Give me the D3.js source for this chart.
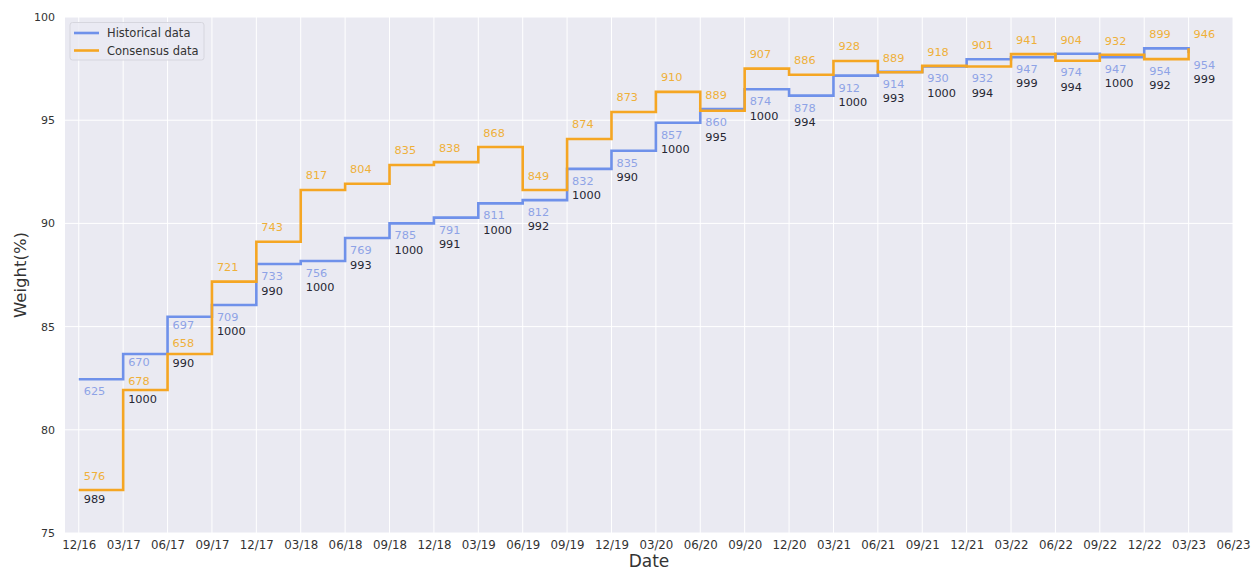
<!DOCTYPE html>
<html>
<head>
<meta charset="utf-8">
<script src="https://cdn.jsdelivr.net/npm/d3@7"></script>
<style>
  html, body { margin: 0; padding: 0; background: #ffffff; }
  svg { display: block; font-family: "DejaVu Sans", sans-serif; }
</style>
</head>
<body>
<svg id="chart" width="1252" height="571"></svg>
<script>
// Quarter-end dates shown on the x axis
const tickLabels = ["12/16","03/17","06/17","09/17","12/17","03/18","06/18","09/18","12/18",
  "03/19","06/19","09/19","12/19","03/20","06/20","09/20","12/20","03/21","06/21",
  "09/21","12/21","03/22","06/22","09/22","12/22","03/23","06/23"];

// Quarters that carry a data point
const quarters = tickLabels.slice(0, 26);

// Weight (%) per quarter
const historical = [82.45, 83.67, 85.48, 86.05, 88.03, 88.18, 89.29, 90.00, 90.28, 90.97,
  91.13, 92.64, 93.52, 94.88, 95.54, 96.50, 96.19, 97.16, 97.34, 97.60,
  97.95, 98.05, 98.22, 98.05, 98.48, 98.25];
const consensus = [77.08, 81.93, 83.67, 87.18, 89.11, 91.62, 91.92, 92.83, 92.97, 93.70,
  91.62, 94.09, 95.40, 96.37, 95.46, 97.50, 97.20, 97.87, 97.32, 97.63,
  97.60, 98.20, 97.88, 98.17, 97.96, 98.48];

// Counts annotated at each quarter
const historicalCount = [625, 670, 697, 709, 733, 756, 769, 785, 791, 811, 812, 832, 835,
  857, 860, 874, 878, 912, 914, 930, 932, 947, 974, 947, 954, 954];
const consensusCount = [576, 678, 658, 721, 743, 817, 804, 835, 838, 868, 849, 874, 873,
  910, 889, 907, 886, 928, 889, 918, 901, 941, 904, 932, 899, 946];
const totalCount = [989, 1000, 990, 1000, 990, 1000, 993, 1000, 991, 1000, 992, 1000, 990,
  1000, 995, 1000, 994, 1000, 993, 1000, 994, 999, 994, 1000, 992, 999];

const yTicks = [75, 80, 85, 90, 95, 100];

const colors = {
  bg: "#eaeaf2",
  grid: "#ffffff",
  hist: "#6f91ea",
  cons: "#f5a623",
  histText: "#8ea3e6",
  consText: "#efb03a",
  totalText: "#262633",
  text: "#333333"
};

const svg = d3.select("#chart");
const plot = { left: 65, right: 1233, top: 17, bottom: 533 };

const x = d3.scaleLinear().domain([-0.31, 26]).range([plot.left, plot.right]);
const y = d3.scaleLinear().domain([75, 100]).range([plot.bottom, plot.top]);

// Axes background
svg.append("rect")
  .attr("x", plot.left).attr("y", plot.top)
  .attr("width", plot.right - plot.left).attr("height", plot.bottom - plot.top)
  .attr("fill", colors.bg);

// Grid lines
svg.append("g")
  .selectAll("line.v")
  .data(tickLabels)
  .join("line")
  .attr("x1", (d, i) => x(i)).attr("x2", (d, i) => x(i))
  .attr("y1", plot.top).attr("y2", plot.bottom)
  .attr("stroke", colors.grid).attr("stroke-width", 1);
svg.append("g")
  .selectAll("line.h")
  .data(yTicks)
  .join("line")
  .attr("x1", plot.left).attr("x2", plot.right)
  .attr("y1", d => y(d)).attr("y2", d => y(d))
  .attr("stroke", colors.grid).attr("stroke-width", 1);

// X axis
const xAxis = d3.axisBottom(x)
  .tickValues(d3.range(tickLabels.length))
  .tickFormat(i => tickLabels[i])
  .tickSize(0).tickPadding(8);
svg.append("g")
  .attr("transform", `translate(0,${plot.bottom})`)
  .call(xAxis)
  .call(g => g.select(".domain").remove())
  .call(g => g.selectAll("text")
    .attr("fill", colors.text)
    .style("font-size", "11.8px")
    .style("font-family", "DejaVu Sans"));

// Y axis
const yAxis = d3.axisLeft(y).tickValues(yTicks).tickFormat(d3.format("d"))
  .tickSize(0).tickPadding(10);
svg.append("g")
  .attr("transform", `translate(${plot.left},0)`)
  .call(yAxis)
  .call(g => g.select(".domain").remove())
  .call(g => g.selectAll("text")
    .attr("fill", colors.text)
    .style("font-size", "11px")
    .style("font-family", "DejaVu Sans"));

// Axis titles
svg.append("text")
  .attr("x", (plot.left + plot.right) / 2).attr("y", 567)
  .attr("text-anchor", "middle")
  .attr("fill", colors.text)
  .style("font-size", "17px")
  .text("Date");
svg.append("text")
  .attr("transform", `translate(26,${(plot.top + plot.bottom) / 2}) rotate(-90)`)
  .attr("text-anchor", "middle")
  .attr("fill", colors.text)
  .style("font-size", "16.5px")
  .text("Weight(%)");

// Step lines
const step = d3.line()
  .x((d, i) => x(i))
  .y(d => y(d))
  .curve(d3.curveStepAfter);

svg.append("path")
  .datum(historical)
  .attr("d", step)
  .attr("fill", "none")
  .attr("stroke", colors.hist)
  .attr("stroke-width", 2.6);
svg.append("path")
  .datum(consensus)
  .attr("d", step)
  .attr("fill", "none")
  .attr("stroke", colors.cons)
  .attr("stroke-width", 2.6);

// Count annotations: consensus above, historical below, total under the lowest label.
// When the two lines nearly coincide, both labels clear the pair of lines.
const labels = quarters.map((q, i) => {
  const yH = y(historical[i]);
  const yC = y(consensus[i]);
  const gap = yC - yH; // > 0 when historical sits above consensus
  let histY, consY;
  if (Math.abs(gap) < 12) {
    consY = Math.min(yH, yC) - 13.5;
    histY = Math.max(yH, yC) + 12;
  } else {
    consY = yC - 14;
    histY = yH + 12.5;
    if (gap > 0 && consY - histY < 16) {
      histY = yH + 8.5;
      consY = histY + 18.5;
    }
  }
  const totalY = Math.max(yC + 9.5, histY + 14.5);
  return { i, histY, consY, totalY };
});

const labelG = svg.append("g")
  .style("font-size", "11.3px")
  .attr("dominant-baseline", "central");

labelG.selectAll("text.cons")
  .data(labels)
  .join("text")
  .attr("x", d => x(d.i) + 5)
  .attr("y", d => d.consY)
  .attr("fill", colors.consText)
  .text(d => consensusCount[d.i]);

labelG.selectAll("text.hist")
  .data(labels)
  .join("text")
  .attr("x", d => x(d.i) + 5)
  .attr("y", d => d.histY)
  .attr("fill", colors.histText)
  .text(d => historicalCount[d.i]);

labelG.selectAll("text.total")
  .data(labels)
  .join("text")
  .attr("x", d => x(d.i) + 5)
  .attr("y", d => d.totalY)
  .attr("fill", colors.totalText)
  .text(d => totalCount[d.i]);

// Legend
const legend = svg.append("g").attr("transform", "translate(70,22.5)");
legend.append("rect")
  .attr("width", 134).attr("height", 37.5)
  .attr("rx", 2.5)
  .attr("fill", colors.bg).attr("fill-opacity", 0.8)
  .attr("stroke", "#d6d6de").attr("stroke-width", 1);
const items = [
  { name: "Historical data", color: colors.hist },
  { name: "Consensus data", color: colors.cons }
];
items.forEach((it, k) => {
  const ly = 10.5 + k * 17.5;
  legend.append("line")
    .attr("x1", 4).attr("x2", 29)
    .attr("y1", ly).attr("y2", ly)
    .attr("stroke", it.color).attr("stroke-width", 2.6);
  legend.append("text")
    .attr("x", 37).attr("y", ly)
    .attr("dominant-baseline", "central")
    .attr("fill", colors.text)
    .style("font-size", "11.5px")
    .text(it.name);
});
</script>
</body>
</html>
